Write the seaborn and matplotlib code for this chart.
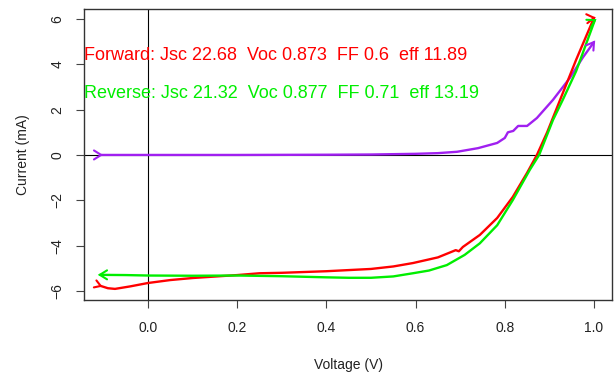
import numpy as np
import pandas as pd
import matplotlib
matplotlib.use("Agg")
import matplotlib.pyplot as plt
import seaborn as sns

# ---- data ----
volt_fwd = [-0.106, -0.09, -0.074, -0.04, 0.0, 0.05, 0.1, 0.2, 0.25, 0.3, 0.4, 0.5,
            0.55, 0.594, 0.65, 0.69, 0.697, 0.706, 0.744, 0.783, 0.818, 0.85, 0.872,
            0.895, 0.924, 0.96, 1.0]
cur_fwd = [-5.78, -5.88, -5.91, -5.8, -5.65, -5.52, -5.43, -5.3, -5.22, -5.2, -5.13, -5.03,
           -4.92, -4.77, -4.52, -4.2, -4.25, -4.06, -3.53, -2.78, -1.85, -0.79, 0.0,
           1.0, 2.43, 4.2, 6.05]

volt_rev = [-0.108, -0.05, 0.0, 0.1, 0.2, 0.3, 0.4, 0.45, 0.5, 0.55, 0.594, 0.6, 0.63,
            0.67, 0.71, 0.744, 0.783, 0.818, 0.856, 0.877, 0.908, 0.93, 0.96, 1.002]
cur_rev = [-5.29, -5.3, -5.32, -5.33, -5.32, -5.35, -5.4, -5.42, -5.42, -5.36, -5.22, -5.2,
           -5.1, -4.86, -4.41, -3.9, -3.1, -1.99, -0.66, 0.0, 1.54, 2.43, 3.7, 5.95]

volt_dark = [-0.105, 0.0, 0.2, 0.4, 0.5, 0.6, 0.65, 0.693, 0.74, 0.783, 0.80, 0.807, 0.819,
             0.83, 0.85, 0.872, 0.908, 0.946, 0.975, 1.0]
cur_dark = [0.0, 0.0, 0.0, 0.01, 0.02, 0.05, 0.08, 0.14, 0.3, 0.53, 0.75, 1.0, 1.06,
            1.28, 1.28, 1.63, 2.43, 3.4, 4.3, 4.98]

series_names = ["Dark", "Forward", "Reverse"]
series_colors = ["#A020F0", "#FF0000", "#00EE00"]

x_ticks = [0.0, 0.2, 0.4, 0.6, 0.8, 1.0]
x_tick_labels = ["0.0", "0.2", "0.4", "0.6", "0.8", "1.0"]
y_ticks = [-6, -4, -2, 0, 2, 4, 6]
y_tick_labels = ["\u22126", "\u22124", "\u22122", "0", "2", "4", "6"]

text_forward = "Forward: Jsc 22.68  Voc 0.873  FF 0.6  eff 11.89"
text_reverse = "Reverse: Jsc 21.32  Voc 0.877  FF 0.71  eff 13.19"
x_label = "Voltage (V)"
y_label = "Current (mA)"

# ---- build table ----
df = pd.concat([
    pd.DataFrame({"V": volt_dark, "I": cur_dark, "sweep": "Dark"}),
    pd.DataFrame({"V": volt_fwd, "I": cur_fwd, "sweep": "Forward"}),
    pd.DataFrame({"V": volt_rev, "I": cur_rev, "sweep": "Reverse"}),
], ignore_index=True)

sns.set_theme(style="white")
plt.rcParams["font.family"] = ["Liberation Sans", "DejaVu Sans"]

W, H = 614, 372
fig = plt.figure(figsize=(W / 100, H / 100), dpi=100)
ax = fig.add_axes([84 / W, 72 / H, 528 / W, 291 / H])

ax.set_xlim(-0.1435, 1.0404)
ax.set_ylim(-6.40, 6.44)

ax.axhline(0, color="black", lw=0.8, zorder=1)
ax.axvline(0, color="black", lw=0.8, zorder=1)

sns.lineplot(data=df, x="V", y="I", hue="sweep", hue_order=series_names,
             palette=dict(zip(series_names, series_colors)), sort=False,
             estimator=None, lw=1.7, legend=False, ax=ax, zorder=3)


def chevron(xd, yd, angle_deg, color, length=8.5, half=32):
    """Open arrowhead with its tip at a data point, pointing at angle_deg (screen)."""
    tip = ax.transData.transform((xd, yd))
    back = np.deg2rad(angle_deg + 180)
    pts = []
    for s in (-1, 1):
        a = back + s * np.deg2rad(half)
        pts.append(tip + length * np.array([np.cos(a), np.sin(a)]))
    path = np.array([pts[0], tip, pts[1]])
    data = ax.transData.inverted().transform(path)
    ax.plot(data[:, 0], data[:, 1], color=color, lw=1.5, zorder=4,
            solid_capstyle="round", solid_joinstyle="miter")


def direction(xs, ys, i, j):
    p = ax.transData.transform((xs[i], ys[i]))
    q = ax.transData.transform((xs[j], ys[j]))
    d = q - p
    return np.degrees(np.arctan2(d[1], d[0]))


c_dark, c_fwd, c_rev = series_colors
# start markers
chevron(volt_dark[0], cur_dark[0], 0, c_dark)
chevron(volt_fwd[0], cur_fwd[0], -20, c_fwd, length=7)
chevron(volt_rev[0], cur_rev[0], 180, c_rev)
# end markers
chevron(volt_dark[-1], cur_dark[-1], direction(volt_dark, cur_dark, -2, -1), c_dark)
chevron(volt_fwd[-1], cur_fwd[-1], direction(volt_fwd, cur_fwd, -2, -1) - 60, c_fwd)
chevron(volt_rev[-1], cur_rev[-1], direction(volt_rev, cur_rev, -2, -1) - 40, c_rev)

ax.text(0.0, 4.41, text_forward, transform=ax.get_yaxis_transform(), color=c_fwd,
        ha="left", va="center", fontsize=13)
ax.text(0.0, 2.73, text_reverse, transform=ax.get_yaxis_transform(), color=c_rev,
        ha="left", va="center", fontsize=13)

ax.set_xticks(x_ticks)
ax.set_xticklabels(x_tick_labels)
ax.set_yticks(y_ticks)
ax.set_yticklabels(y_tick_labels, rotation=90, va="center")
ax.tick_params(axis="both", direction="out", length=6, width=0.8, color="#444444",
               labelsize=10, labelcolor="#222222", bottom=True, left=True)
ax.tick_params(axis="x", pad=9)
ax.tick_params(axis="y", pad=8)

ax.set_xlabel(x_label, fontsize=10, color="#222222", labelpad=17)
ax.set_ylabel(y_label, fontsize=10, color="#222222", labelpad=15)

for sp in ax.spines.values():
    sp.set_visible(True)
    sp.set_color("#333333")
    sp.set_linewidth(1.0)

ax.grid(False)
fig.savefig("out.png", dpi=100)
